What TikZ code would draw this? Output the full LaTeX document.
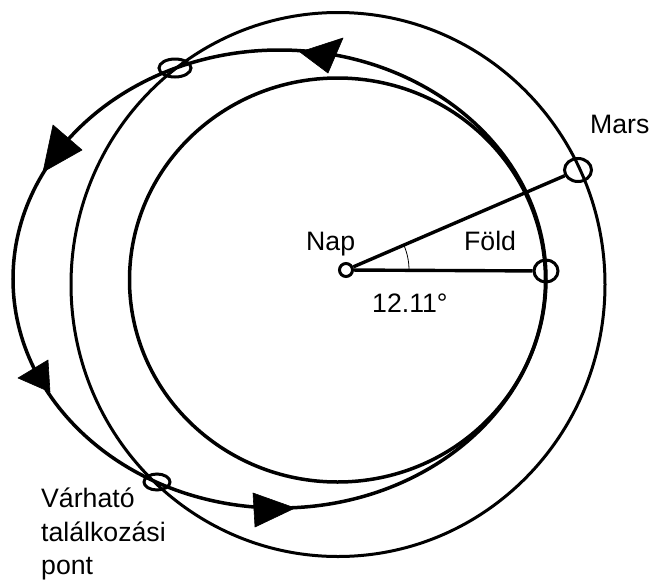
\documentclass[tikz,border=0pt]{standalone}
\usepackage{fontspec}
\setmainfont{Liberation Sans}
\usetikzlibrary{shapes.geometric}
\begin{document}
\begin{tikzpicture}[x=1pt,y=-1pt,
  orbit/.style={line width=3.5pt},
  marsorbit/.style={line width=3pt},
  transfer/.style={line width=3.5pt},
  marker/.style={draw, ellipse, line width=3pt, inner sep=0pt},
  ray/.style={line width=3.4pt},
  head/.style={fill=black, draw=black, line width=0.6pt, line join=round},
  lbl/.style={font=\fontsize{26.67}{32}\selectfont, inner sep=0pt, anchor=base west}]
\useasboundingbox (0,0) rectangle (657,582);
% orbits
\draw[orbit] (337.5,280) ellipse [x radius=208, y radius=202];
\draw[marsorbit] (338,284.5) ellipse [x radius=267, y radius=272];
\draw[transfer] (279.5,279) ellipse [x radius=266.5, y radius=229];
% direction arrows on the transfer orbit
\fill[head] (300,52) -- (343,38) -- (328,73) -- cycle;
\fill[head] (53,125) -- (82,150) -- (43,172) -- cycle;
\fill[head] (18,378) -- (48,360) -- (50,392) -- cycle;
\fill[head] (253,493) -- (295,508) -- (255,527) -- cycle;
% markers
\node[marker, fill=white, minimum width=13pt, minimum height=13pt] (sun) at (346,270) {};
\node[marker, minimum width=24pt, minimum height=22pt] (earth) at (546,271) {};
\node[marker, minimum width=27pt, minimum height=23pt] (mars) at (578,170) {};
\node[marker, minimum width=32pt, minimum height=18pt] (start) at (175,68) {};
\node[marker, minimum width=26pt, minimum height=16pt] (meet) at (157,482) {};
% rays
\draw[ray] (sun) -- (earth);
\draw[ray] (sun) -- (mars);
\draw[line width=0.8pt] (sun.center) ++(63,0) arc[start angle=0, end angle=-23.3, radius=63];
% labels
\node[lbl] (nap) at (306,250) {Nap};
\node[lbl] (fold) at (464,250) {Föld};
\node[lbl] (marslbl) at (590,133) {Mars};
\node[lbl] (angle) at (372,312) {12.11°};
\node[lbl] (l1) at (41,507) {Várható};
\node[lbl] (l2) at (41,541) {találkozási};
\node[lbl] (l3) at (41,574) {pont};
\end{tikzpicture}
\end{document}
